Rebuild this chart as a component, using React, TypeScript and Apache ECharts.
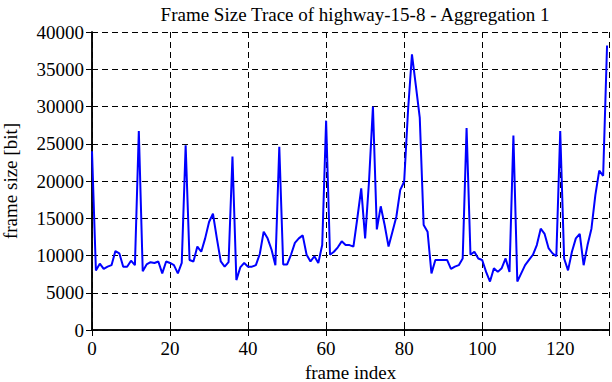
import React, { useEffect, useRef } from "react";
import * as echarts from "echarts";

const titleText = "Frame Size Trace of highway-15-8 - Aggregation 1";
const xAxisName = "frame index";
const yAxisName = "frame size [bit]";
const xMin = 0;
const xMax = 132.5;
const xInterval = 20;
const yMin = 0;
const yMax = 40000;
const yInterval = 5000;

// frame sizes (bit) for frame index 0..132
const frameSizes = [
  24000, 8000, 8900, 8200, 8500, 8700, 10600, 10300, 8500, 8500,
  9300, 8700, 26700, 7900, 8800, 9100, 9000, 9200, 7600, 9200,
  9000, 8700, 7600, 9000, 24800, 9400, 9200, 11200, 10500, 12300,
  14500, 15600, 12300, 9200, 8500, 9100, 23300, 6700, 8400, 9000,
  8500, 8500, 8700, 10200, 13200, 12300, 10800, 8700, 24600, 8800,
  8800, 10100, 11700, 12300, 12700, 10100, 9200, 9900, 9000, 11400,
  28100, 10100, 10500, 11100, 11900, 11400, 11400, 11200, 15000, 19000,
  12300, 20000, 30000, 13500, 16600, 14100, 11200, 13200, 15200, 18800,
  19900, 29500, 37000, 32800, 28500, 14100, 13200, 7600, 9400, 9400,
  9400, 9400, 8200, 8500, 8700, 9600, 27100, 10100, 10500, 9600,
  9400, 7800, 6500, 8300, 7800, 8300, 9600, 7800, 26100, 6500,
  7600, 8700, 9400, 10100, 11400, 13600, 12900, 11000, 10300, 9900,
  26700, 9600, 8000, 10500, 12300, 12900, 8700, 11400, 13600, 18100,
  21400, 20700, 38200,
];

const FONT = "Liberation Serif";

export default function App() {
  const ref = useRef<HTMLDivElement>(null);
  useEffect(() => {
    if (!ref.current) return;
    const chart = echarts.init(ref.current, undefined, { renderer: "svg" });
    const tickCommon = {
      show: true,
      inside: true,
      length: 6,
      lineStyle: { color: "#000", width: 1 },
    };
    const dashed = {
      show: true,
      lineStyle: { color: "#000", type: [6, 4] as any, width: 1 },
    };
    const axisLineStyle = { show: true, lineStyle: { color: "#000", width: 1.5 } };
    const labelStyle = {
      color: "#000",
      fontFamily: FONT,
      fontSize: 19,
    };
    chart.setOption({
      animation: false,
      backgroundColor: "#fff",
      textStyle: { fontFamily: FONT, color: "#000" },
      title: {
        text: titleText,
        left: 350,
        top: 0,
        textAlign: "center",
        textStyle: { color: "#000", fontFamily: FONT, fontSize: 19, fontWeight: "normal" },
      },
      grid: {
        left: 92,
        top: 32,
        width: 517,
        height: 298,
        containLabel: false,
        outerBoundsMode: "none",
      },
      xAxis: [
        {
          type: "value",
          min: xMin,
          max: xMax,
          interval: xInterval,
          position: "bottom",
          name: xAxisName,
          nameLocation: "middle",
          nameGap: 33,
          nameTextStyle: { ...labelStyle },
          axisLine: axisLineStyle,
          axisTick: tickCommon,
          axisLabel: {
            ...labelStyle,
            margin: 9,
            formatter: (v: number) => (v % xInterval === 0 ? String(v) : ""),
          },
          splitLine: dashed,
        },
        {
          type: "value",
          min: xMin,
          max: xMax,
          interval: xInterval,
          position: "top",
          axisLine: axisLineStyle,
          axisTick: tickCommon,
          axisLabel: { show: false },
          splitLine: { show: false },
        },
      ],
      yAxis: [
        {
          type: "value",
          min: yMin,
          max: yMax,
          interval: yInterval,
          position: "left",
          name: yAxisName,
          nameLocation: "middle",
          nameGap: 72,
          nameTextStyle: { ...labelStyle },
          axisLine: axisLineStyle,
          axisTick: tickCommon,
          axisLabel: { ...labelStyle, margin: 8, formatter: (v: number) => String(v) },
          splitLine: dashed,
        },
        {
          type: "value",
          min: yMin,
          max: yMax,
          interval: yInterval,
          position: "right",
          axisLine: axisLineStyle,
          axisTick: tickCommon,
          axisLabel: { show: false },
          splitLine: { show: false },
        },
      ],
      series: [
        {
          type: "line",
          data: frameSizes.map((v, i) => [i, v]),
          xAxisIndex: 0,
          yAxisIndex: 0,
          showSymbol: false,
          symbol: "none",
          lineStyle: { color: "#0000ff", width: 2 },
          z: 3,
        },
      ],
    });
    return () => chart.dispose();
  }, []);
  return (
    <div
      ref={ref}
      style={{ position: "fixed", left: 0, top: 0, width: 612, height: 382, background: "#fff" }}
    />
  );
}
